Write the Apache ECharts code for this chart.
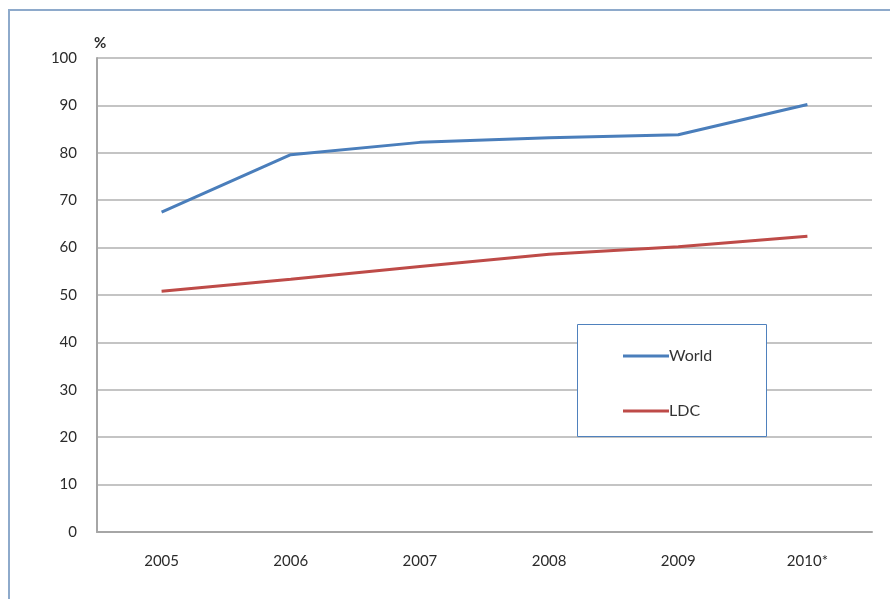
<!DOCTYPE html>
<html><head><meta charset="utf-8">
<script src="https://cdn.jsdelivr.net/npm/echarts@6/dist/echarts.min.js"></script>
<style>html,body{margin:0;padding:0;background:#fff}#c{width:890px;height:599px}</style>
</head><body><div id="c"></div>
<script>
const categories = ['2005','2006','2007','2008','2009','2010*'];
const world = [67.5, 79.6, 82.2, 83.2, 83.8, 90.2];
const ldc = [50.8, 53.3, 56.0, 58.6, 60.2, 62.4];
const yTicks = {min: 0, max: 100, interval: 10};

const chart = echarts.init(document.getElementById('c'));
const font = 'Lato, "Liberation Sans", sans-serif';
chart.setOption({
  animation: false,
  backgroundColor: '#fff',
  grid: {left: 97, right: 18, top: 58, bottom: 67},
  graphic: [
    {type: 'rect', shape: {x: 9, y: 10, width: 900, height: 600},
     style: {fill: 'none', stroke: '#8eaacb', lineWidth: 2}, z: -1},
    {type: 'rect', shape: {x: 577.5, y: 324.5, width: 189, height: 112},
     style: {fill: '#fff', stroke: '#4f81bd', lineWidth: 1}, z: 5}
  ],
  legend: {
    orient: 'vertical', left: 618, top: 343, z: 10,
    itemWidth: 46, itemHeight: 3, itemGap: 39,
    icon: 'rect',
    textStyle: {fontFamily: font, fontSize: 16, color: '#333', lineHeight: 16, padding: [0,0,0,-5]},
    data: ['World', 'LDC']
  },
  xAxis: {
    type: 'category', data: categories, boundaryGap: true,
    axisLine: {lineStyle: {color: '#a6a6a6', width: 2}},
    axisTick: {show: false},
    axisLabel: {fontFamily: font, fontSize: 15, color: '#2b2b2b', margin: 22}
  },
  yAxis: {
    type: 'value', min: yTicks.min, max: yTicks.max, interval: yTicks.interval,
    name: '%', nameLocation: 'end', nameGap: 7,
    nameTextStyle: {fontFamily: font, fontSize: 15, color: '#2b2b2b', fontWeight: 'bold', align: 'left', padding: [0,0,0,-3]},
    axisLine: {show: true, lineStyle: {color: '#a6a6a6', width: 2}},
    axisTick: {show: false},
    splitLine: {lineStyle: {color: '#c4c4c4', width: 2}},
    axisLabel: {fontFamily: font, fontSize: 15, color: '#2b2b2b', margin: 20}
  },
  series: [
    {name: 'World', type: 'line', data: world, symbol: 'none',
     lineStyle: {color: '#4a7ebb', width: 3}, itemStyle: {color: '#4a7ebb'}},
    {name: 'LDC', type: 'line', data: ldc, symbol: 'none',
     lineStyle: {color: '#be4b48', width: 3}, itemStyle: {color: '#be4b48'}}
  ]
});
</script></body></html>
